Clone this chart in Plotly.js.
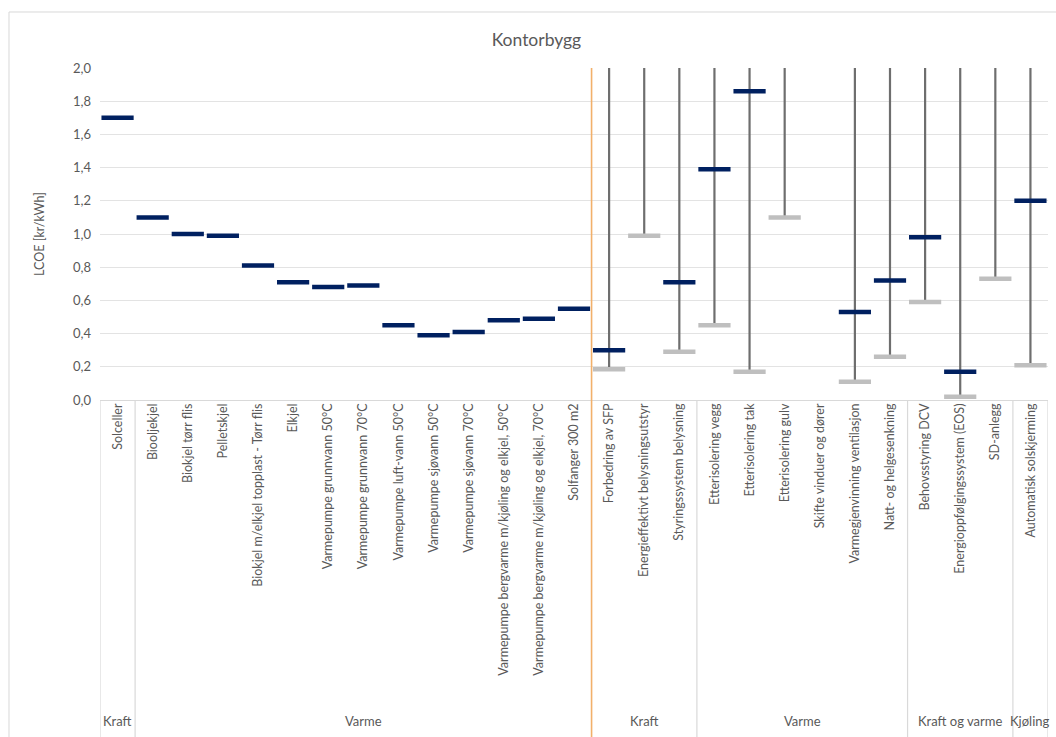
<!DOCTYPE html>
<html>
<head>
<meta charset="utf-8">
<script src="https://cdn.plot.ly/plotly-3.0.1.min.js"></script>
<style>html,body{margin:0;padding:0;background:#fff;}#chart{width:1056px;height:737px;}</style>
</head>
<body>
<div id="chart"></div>
<script>
const categories = [
  "Solceller","Biooljekjel","Biokjel tørr flis","Pelletskjel","Biokjel m/elkjel topplast - Tørr flis","Elkjel",
  "Varmepumpe grunnvann 50°C","Varmepumpe grunnvann 70°C","Varmepumpe luft-vann 50°C","Varmepumpe sjøvann 50°C",
  "Varmepumpe sjøvann 70°C","Varmepumpe bergvarme m/kjøling og elkjel, 50°C","Varmepumpe bergvarme m/kjøling og elkjel, 70°C",
  "Solfanger 300 m2",
  "Forbedring av SFP","Energieffektivt belysningsutstyr","Styringssystem belysning","Etterisolering vegg",
  "Etterisolering tak","Etterisolering gulv","Skifte vinduer og dører","Varmegjenvinning ventilasjon",
  "Natt- og helgesenkning","Behovsstyring DCV","Energioppfølgingssystem (EOS)","SD-anlegg","Automatisk solskjerming"
];
// central LCOE value (navy); null = above the 2,0 axis limit
const lcoe = [1.70,1.10,1.00,0.99,0.81,0.71,0.68,0.69,0.45,0.39,0.41,0.48,0.49,0.55,
  0.30,null,0.71,1.39,1.86,null,null,0.53,0.72,0.98,0.17,null,1.20];
// low end of the range (grey)
const lcoeLow = [null,null,null,null,null,null,null,null,null,null,null,null,null,null,
  0.185,0.99,0.29,0.45,0.17,1.10,null,0.11,0.26,0.59,0.02,0.73,0.21];
// high end of the range (runs past the top of the axis; shown capped at 2,0)
const lcoeHigh = [null,null,null,null,null,null,null,null,null,null,null,null,null,null,
  2.0,2.0,2.0,2.0,2.0,2.0,null,2.0,2.0,2.0,2.0,2.0,2.0];
// group labels: [label, first index, last index]
const groupNames = ["Kraft","Varme","Kraft","Varme","Kraft og varme","Kjøling"];
const groupStart = [0,1,14,17,23,26];
const groupEnd   = [0,13,16,22,25,26];

const gx = [], gy = [];
categories.forEach((c,i)=>{
  if (lcoeLow[i]!==null && lcoeHigh[i]!==null){ gx.push(c,c,null); gy.push(lcoeLow[i],lcoeHigh[i],null); }
});

const txtColor = "#595959";
const fontFam = "Lato, 'Open Sans', sans-serif";

const traces = [
  {type:"scatter", mode:"lines", x:gx, y:gy, line:{color:"#6e6e6e", width:2.2}, hoverinfo:"skip", showlegend:false, cliponaxis:true},
  {type:"scatter", mode:"markers", x:categories, y:lcoeLow, name:"Lav",
   marker:{symbol:"line-ew", size:23, line:{color:"#bfbfbf", width:4.5}}, showlegend:false, cliponaxis:false},
  {type:"scatter", mode:"markers", x:categories, y:lcoe, name:"LCOE",
   marker:{symbol:"line-ew", size:23, line:{color:"#002060", width:4.5}}, showlegend:false, cliponaxis:false}
];

const sepColor = "#d9d9d9";
const shapes = [];
// outer chart frame
shapes.push({type:"rect", xref:"paper", yref:"paper", x0:-0.096, x1:1.03, y0:-1.2, y1:1.1687,
  line:{color:"#d9d9d9", width:1}, fillcolor:"rgba(0,0,0,0)", layer:"below"});
// group separators in the label area
const bounds = [-0.5];
groupEnd.forEach(e=>bounds.push(e+0.5));
bounds.forEach(b=>{
  if (b===13.5) return;
  shapes.push({type:"line", xref:"x", yref:"paper", x0:b, x1:b, y0:0, y1:-1.02, line:{color:sepColor, width:1.2}});
});
// orange divider between technologies and measures
shapes.push({type:"line", xref:"x", yref:"paper", x0:13.5, x1:13.5, y0:1, y1:-1.02, line:{color:"#f2b06a", width:1.6}});

const annotations = groupNames.map((g,k)=>({
  text:g, xref:"x", yref:"paper", x:(groupStart[k]+groupEnd[k])/2, y:-0.968, yanchor:"middle",
  showarrow:false, font:{family:fontFam, size:13, color:txtColor}
}));

const layout = {
  width:1056, height:737,
  margin:{l:100, r:8, t:68, b:337},
  paper_bgcolor:"#fff", plot_bgcolor:"#fff",
  separators:", ",
  title:{text:"Kontorbygg", x:0.508, xref:"container", y:0.946, yref:"container", yanchor:"middle",
    font:{family:fontFam, size:17.5, color:txtColor}},
  xaxis:{type:"category", categoryorder:"array", categoryarray:categories, range:[-0.5,26.5],
    showgrid:false, zeroline:false, showline:false, ticks:"", tickangle:-90,
    tickfont:{family:fontFam, size:12.5, color:txtColor}, automargin:false, fixedrange:true},
  yaxis:{range:[0,2.0], dtick:0.2, tickformat:".1f", showgrid:true, gridcolor:"#e3e3e3", gridwidth:1,
    zeroline:true, zerolinecolor:"#d9d9d9", zerolinewidth:1, showline:false, ticks:"",
    ticklabelstandoff:8,
    tickfont:{family:fontFam, size:13, color:txtColor},
    title:{text:"LCOE [kr/kWh]", font:{family:fontFam, size:12.5, color:txtColor}, standoff:25},
    automargin:false, fixedrange:true},
  shapes:shapes,
  annotations:annotations,
  showlegend:false
};

Plotly.newPlot("chart", traces, layout, {displayModeBar:false, staticPlot:true});
</script>
</body>
</html>
